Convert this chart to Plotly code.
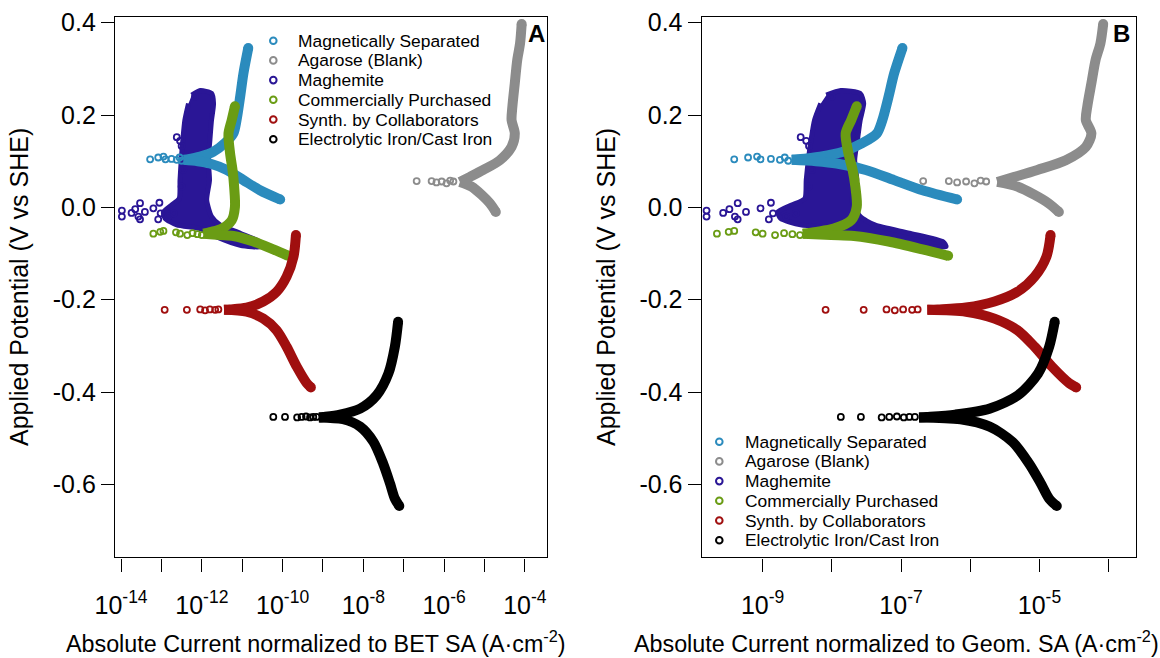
import plotly.graph_objects as go

W, H = 1160, 658

# ---------------- data (panel A: current normalised to BET surface area) ----------------
# values are log10 of |current| (A cm^-2) and potential (V vs SHE)

series_names = ["Magnetically Separated", "Agarose (Blank)", "Maghemite",
                "Commercially Purchased", "Synth. by Collaborators",
                "Electrolytic Iron/Cast Iron"]
series_colors = ["#2b8bbd", "#8c8c8c", "#2a1696", "#6a9c14", "#a00f0f", "#000000"]

# decades added when re-normalising from BET area to geometric area (panel B)
bet_to_geom_decades = {"ms": 3.87, "ag": 0.0, "mh": 4.17, "cp": 3.54, "sy": 4.83, "el": 2.36}

# Magnetically Separated
ms_band_log_i = [-10.85, -10.97, -11.05, -11.14, -11.22, -11.43, -11.72, -12.04, -12.37, -12.45,
                 -12.10, -11.80, -11.38, -10.97, -10.56, -10.06]
ms_band_v = [0.345, 0.290, 0.240, 0.189, 0.160, 0.139, 0.120, 0.110, 0.104, 0.103,
             0.100, 0.095, 0.081, 0.059, 0.037, 0.017]
ms_pts_log_i = [-13.28, -13.08, -12.95, -12.90, -12.75, -12.62, -12.55, -12.50]
ms_pts_v = [0.104, 0.108, 0.110, 0.104, 0.105, 0.103, 0.108, 0.101]

# Agarose (Blank)
ag_band_log_i = [-4.08, -4.12, -4.19, -4.25, -4.31, -4.33, -4.25, -4.33, -4.62, -5.03, -5.36,
                 -5.61, -5.32, -5.07, -4.87, -4.72]
ag_band_v = [0.397, 0.355, 0.319, 0.269, 0.218, 0.189, 0.160, 0.131, 0.102, 0.081, 0.066,
             0.055, 0.045, 0.027, 0.009, -0.010]
ag_pts_log_i = [-6.68, -6.31, -6.19, -6.06, -5.94, -5.85, -5.77]
ag_pts_v = [0.057, 0.057, 0.054, 0.056, 0.052, 0.058, 0.056]

# Maghemite (dense cloud outline + scattered points)
mh_cloud_log_i = [-12.25, -12.04, -11.76, -11.71, -11.76, -11.80, -11.84, -11.81, -11.88, -11.76,
                  -11.55, -11.05, -10.56, -10.52, -11.05, -11.63, -12.04, -12.62, -12.91, -12.95,
                  -12.75, -12.56, -12.54, -12.51, -12.47, -12.42, -12.33]
mh_cloud_v = [0.243, 0.253, 0.247, 0.225, 0.189, 0.146, 0.102, 0.059, 0.016, -0.020,
              -0.038, -0.056, -0.075, -0.085, -0.082, -0.064, -0.046, -0.038, -0.024, -0.010,
              0.005, 0.019, 0.059, 0.102, 0.146, 0.189, 0.225]
mh_pts_log_i = [-12.62, -12.54, -12.50, -13.53, -13.65, -13.74, -13.98, -13.98, -13.57, -13.53,
                -13.41, -13.20, -13.05, -13.02, -13.08, -12.83, -12.69, -12.17, -12.46, -12.50]
mh_pts_v = [0.152, 0.144, 0.133, 0.009, -0.004, -0.012, -0.007, -0.020, -0.020, -0.026,
            -0.010, -0.002, 0.010, -0.013, -0.026, -0.020, -0.013, 0.240, 0.081, 0.045]

# Commercially Purchased
cp_band_log_i = [-11.18, -11.26, -11.34, -11.30, -11.24, -11.20, -11.18, -11.26, -11.51, -11.76,
                 -11.96, -11.55, -11.22, -10.72, -10.23, -9.86]
cp_band_v = [0.219, 0.189, 0.160, 0.117, 0.081, 0.045, 0.001, -0.028, -0.046, -0.053,
             -0.057, -0.060, -0.062, -0.074, -0.091, -0.105]
cp_pts_log_i = [-13.20, -13.03, -12.95, -12.64, -12.54, -12.36, -12.23, -12.11, -12.00]
cp_pts_v = [-0.057, -0.053, -0.051, -0.054, -0.057, -0.060, -0.056, -0.058, -0.060]

# Synth. by Collaborators
sy_band_log_i = [-9.67, -9.73, -9.90, -10.15, -10.48, -10.89, -11.30, -11.45,
                 -10.89, -10.48, -10.15, -9.90, -9.65, -9.40, -9.30]
sy_band_v = [-0.060, -0.107, -0.150, -0.183, -0.204, -0.217, -0.221, -0.222,
             -0.226, -0.241, -0.266, -0.302, -0.345, -0.381, -0.390]
sy_pts_log_i = [-12.92, -12.37, -12.04, -11.92, -11.80, -11.67, -11.59]
sy_pts_v = [-0.222, -0.222, -0.221, -0.223, -0.221, -0.222, -0.221]

# Electrolytic Iron/Cast Iron
el_band_log_i = [-7.14, -7.22, -7.38, -7.67, -8.08, -8.58, -8.99, -9.10,
                 -8.50, -8.08, -7.75, -7.51, -7.34, -7.22, -7.11]
el_band_v = [-0.248, -0.302, -0.360, -0.407, -0.436, -0.449, -0.454, -0.455,
             -0.459, -0.475, -0.508, -0.555, -0.598, -0.631, -0.647]
el_pts_log_i = [-10.23, -9.94, -9.64, -9.53, -9.42, -9.32, -9.24, -9.16]
el_pts_v = [-0.454, -0.454, -0.455, -0.454, -0.453, -0.455, -0.454, -0.454]

# axis ticks (decade exponents)
xa_label_exp = [-14, -12, -10, -8, -6, -4]
xa_minor_exp = [-13, -11, -9, -7, -5]
xb_label_exp = [-9, -7, -5]
xb_minor_exp = [-8, -6, -4]
y_tick_vals = [-0.6, -0.4, -0.2, 0.0, 0.2, 0.4]
y_tick_text = ["-0.6", "-0.4", "-0.2", "0.0", "0.2", "0.4"]

FONT = "Liberation Sans, Arial, sans-serif"

band_data = {
    "ms": (ms_band_log_i, ms_band_v), "ag": (ag_band_log_i, ag_band_v),
    "cp": (cp_band_log_i, cp_band_v), "sy": (sy_band_log_i, sy_band_v),
    "el": (el_band_log_i, el_band_v),
}
pts_data = {
    "ms": (ms_pts_log_i, ms_pts_v), "ag": (ag_pts_log_i, ag_pts_v), "mh": (mh_pts_log_i, mh_pts_v),
    "cp": (cp_pts_log_i, cp_pts_v), "sy": (sy_pts_log_i, sy_pts_v), "el": (el_pts_log_i, el_pts_v),
}
keys = ["ms", "ag", "mh", "cp", "sy", "el"]
color_of = dict(zip(keys, series_colors))
draw_order = ["ag", "mh", "ms", "cp", "sy", "el"]

fig = go.Figure()

for panel, (xa, ya) in enumerate([("x", "y"), ("x2", "y2")]):
    for k in draw_order:
        shift = 0.0 if panel == 0 else bet_to_geom_decades[k]
        c = color_of[k]
        name = series_names[keys.index(k)]
        if k == "mh":
            fig.add_trace(go.Scatter(
                x=[10 ** (v + shift) for v in mh_cloud_log_i], y=mh_cloud_v,
                mode="lines", fill="toself", fillcolor=c, name=name,
                line=dict(color=c, width=5, shape="spline", smoothing=0.6),
                xaxis=xa, yaxis=ya, showlegend=False, hoverinfo="skip"))
        else:
            bx, by = band_data[k]
            tip = bx.index(min(bx))  # corrosion potential: anodic / cathodic branches meet here
            for seg in (slice(0, tip + 1), slice(tip, len(bx))):
                fig.add_trace(go.Scatter(
                    x=[10 ** (v + shift) for v in bx[seg]], y=by[seg], mode="lines", name=name,
                    line=dict(color=c, width=10, shape="spline", smoothing=0.8),
                    xaxis=xa, yaxis=ya, showlegend=False, hoverinfo="skip"))
            ends_x = [bx[0], bx[-1]]
            ends_y = [by[0], by[-1]]
            fig.add_trace(go.Scatter(
                x=[10 ** (v + shift) for v in ends_x], y=ends_y, mode="markers", name=name,
                marker=dict(color=c, size=10), xaxis=xa, yaxis=ya, showlegend=False,
                hoverinfo="skip"))
        px_, py_ = pts_data[k]
        fig.add_trace(go.Scatter(
            x=[10 ** (v + shift) for v in px_], y=py_, mode="markers",
            marker=dict(symbol="circle-open", color=c, size=6, line=dict(width=1.8, color=c)),
            xaxis=xa, yaxis=ya, showlegend=False, name=name))

# ---------------- layout ----------------
TICKFONT = dict(family=FONT, size=25, color="black")

def x_axis(domain, rng, anchor, label_exp, minor_exp):
    return dict(
        type="log", domain=domain, range=rng, anchor=anchor, automargin=False,
        showline=True, mirror=True, linecolor="black", linewidth=1.4,
        ticks="outside", ticklen=13, tickwidth=1.4, tickcolor="black",
        showgrid=False, zeroline=False, tickfont=TICKFONT, ticklabelstandoff=12,
        tickmode="array", tickvals=[10.0 ** e for e in label_exp],
        ticktext=[f"10<sup>{e}</sup>" for e in label_exp],
        minor=dict(tickmode="array", tickvals=[10.0 ** e for e in minor_exp], ticks="outside",
                   ticklen=13, tickwidth=1.4, tickcolor="black", showgrid=False),
    )

def y_axis(anchor):
    return dict(
        range=[-0.758, 0.4134], anchor=anchor, automargin=False,
        showline=True, mirror=True, linecolor="black", linewidth=1.4,
        ticks="outside", ticklen=13, tickwidth=1.4, tickcolor="black",
        showgrid=False, zeroline=False,
        tickmode="array", tickvals=y_tick_vals, ticktext=y_tick_text, tickfont=TICKFONT,
        domain=[1 - 557.3 / H, 1 - 16.5 / H],
        title=dict(text="Applied Potential (V vs SHE)",
                   font=dict(family=FONT, size=25, color="black"), standoff=16),
    )

fig.update_layout(
    template="none",
    width=W, height=H, margin=dict(l=0, r=0, t=0, b=0, autoexpand=False),
    paper_bgcolor="white", plot_bgcolor="white", showlegend=False,
    xaxis=x_axis([115 / W, 546.7 / W], [-14.15, -3.46], "y", xa_label_exp, xa_minor_exp),
    xaxis2=x_axis([701.7 / W, 1135.7 / W], [-9.88, -3.61], "y2", xb_label_exp, xb_minor_exp),
    yaxis=y_axis("x"),
    yaxis2=y_axis("x2"),
    font=dict(family=FONT, color="black"),
)

annotations = []
shapes = []
# x-axis titles
annotations.append(dict(text="Absolute Current normalized to BET SA (A·cm<sup>-2</sup>)",
                        x=316 / W, y=1 - 642 / H, xref="paper", yref="paper",
                        xanchor="center", yanchor="middle", showarrow=False,
                        font=dict(family=FONT, size=23.3, color="black")))
annotations.append(dict(text="Absolute Current normalized to Geom. SA (A·cm<sup>-2</sup>)",
                        x=896 / W, y=1 - 642 / H, xref="paper", yref="paper",
                        xanchor="center", yanchor="middle", showarrow=False,
                        font=dict(family=FONT, size=23.3, color="black")))
# panel letters
for letter, lx in (("A", 536.7), ("B", 1121.5)):
    annotations.append(dict(text=f"<b>{letter}</b>", x=lx / W, y=1 - 33.3 / H, xref="paper",
                            yref="paper", xanchor="center", yanchor="middle", showarrow=False,
                            font=dict(family=FONT, size=24, color="black")))
# legends
legend_specs = [(273.3, 296.0, 40.7), (719.3, 742.5, 441.7)]
for mx, tx, y0 in legend_specs:
    for i, (name, col) in enumerate(zip(series_names, series_colors)):
        yy = y0 + i * 19.7
        shapes.append(dict(type="circle", xref="paper", yref="paper", xsizemode="pixel",
                           ysizemode="pixel", xanchor=mx / W, yanchor=1 - yy / H,
                           x0=-3.3, x1=3.3, y0=-3.3, y1=3.3, line=dict(color=col, width=2)))
        annotations.append(dict(text=name, x=tx / W, y=1 - yy / H, xref="paper", yref="paper",
                                xanchor="left", yanchor="middle", showarrow=False,
                                font=dict(family=FONT, size=17.4, color="black")))

fig.update_layout(annotations=annotations, shapes=shapes)
fig.write_html("out.html")
